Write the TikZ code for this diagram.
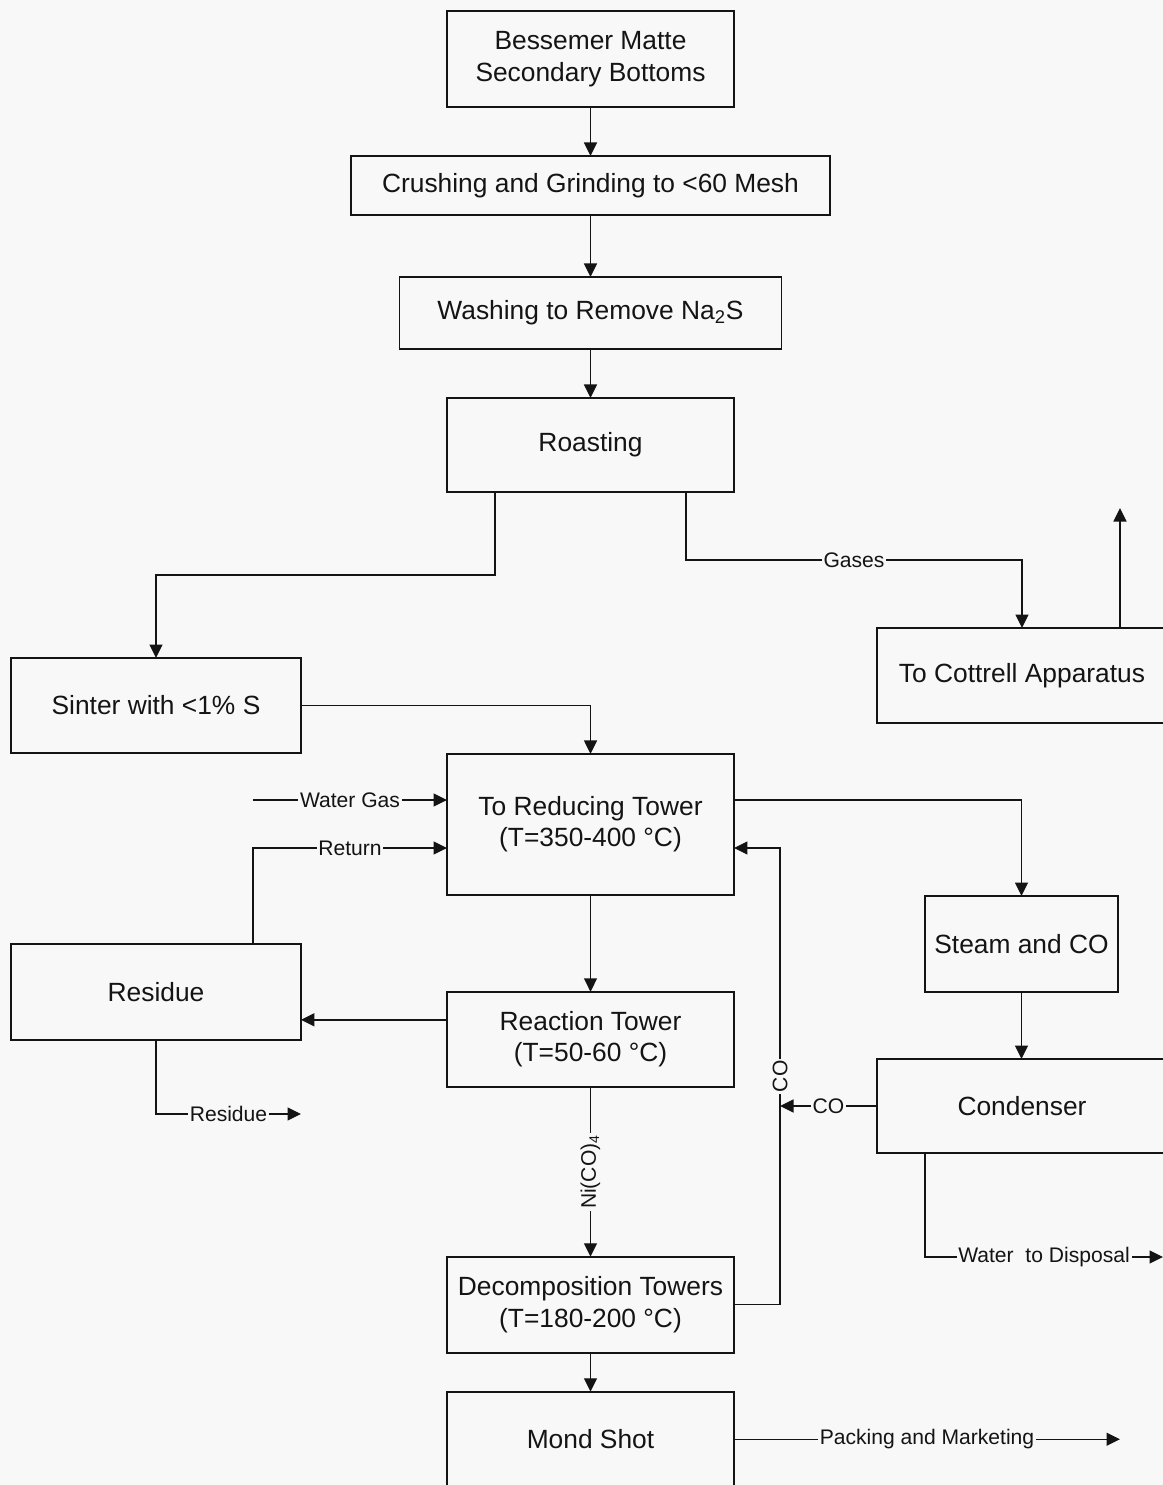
\documentclass[tikz,border=0pt]{standalone}
\usepackage{fontspec}
\setmainfont{Liberation Sans}
\usepackage{xcolor}
\usepackage{tikz}
\usetikzlibrary{arrows.meta, positioning, calc}
\definecolor{scanBg}{RGB}{248, 248, 248}
\definecolor{inkBlack}{RGB}{20, 20, 20}
\tikzset{
  block/.style={
    rectangle,
    draw=inkBlack,
    text=inkBlack,
    line width=0.9pt,
    outer sep=0pt,
    minimum width=5.74cm,
    minimum height=1.9cm,
    align=center,
    inner sep=2pt,
    font=\fontsize{15}{18}\selectfont
  },
  flowlabel/.style={
    fill=scanBg,
    text=inkBlack,
    inner sep=1pt,
    font=\fontsize{12}{14}\selectfont
  },
  arrow/.style={
    -{Triangle[length=0.27cm,width=0.26cm]},
    line width=0.8pt,
    color=inkBlack
  }
}

\begin{document}
\begin{tikzpicture}[x=0.02cm, y=-0.02cm]
\clip (0,0) rectangle (1163,1485);
\fill[scanBg] (0,0) rectangle (1163,1485);

% --- Main column ---
\node[block, minimum height=1.92cm] (bessemer) at (590.5,59) {Bessemer Matte\\Secondary Bottoms};
\node[block, below=0.98cm of bessemer, minimum width=9.58cm, minimum height=1.18cm] (crushing) {Crushing and Grinding to <60 Mesh};
\node[block, below=1.24cm of crushing, minimum width=7.64cm, minimum height=1.44cm] (washing) {Washing to Remove Na\textsubscript{2}S};
\node[block, below=0.98cm of washing, minimum height=1.88cm] (roasting) {Roasting};
\node[block, below=5.24cm of roasting, minimum height=2.82cm] (reducing) {To Reducing Tower\\(T=350-400 °C)};
\node[block, below=1.94cm of reducing] (reaction) {Reaction Tower\\(T=50-60 °C)};
\node[block, below=3.4cm of reaction, minimum height=1.92cm] (decomp) {Decomposition Towers\\(T=180-200 °C)};
\node[block, below=0.78cm of decomp] (mond) {Mond Shot};

% --- Side blocks ---
\node[block, minimum width=5.8cm] (sinter) at (156,705.5) {Sinter with <1\% S};
\node[block, minimum width=5.8cm, minimum height=1.92cm] (residue) at (156,992) {Residue};
\node[block, minimum width=5.8cm] (cottrell) at (1022,675.5) {To Cottrell Apparatus};
\node[block, minimum width=3.86cm, minimum height=1.92cm] (steam) at (1021.5,944) {Steam and CO};
\node[block, minimum width=5.8cm, minimum height=1.88cm] (condenser) at (1022,1106) {Condenser};

% --- Free ends ---
\coordinate (stack) at (1120,508);
\coordinate (watergas) at (253,800);
\coordinate (residueout) at (301,1114);
\coordinate (cotop) at (780,848);
\coordinate (coline) at (780,1105);
\coordinate (waterout) at (1163,1257);
\coordinate (packout) at (1120,1440);

% --- Main column arrows ---
\draw[arrow] (bessemer) -- (crushing);
\draw[arrow] (crushing) -- (washing);
\draw[arrow] (washing) -- (roasting);
\draw[arrow] (reducing) -- (reaction);
\draw[arrow] (reaction) -- node[flowlabel, rotate=90] {Ni(CO)\textsubscript{4}} (decomp);
\draw[arrow] (decomp) -- (mond);

% --- Roasting outputs ---
\draw[arrow] ([xshift=0.96cm]roasting.south west) |- ([yshift=1.66cm]sinter.north) -- (sinter.north);
\draw[arrow] ([xshift=-0.96cm]roasting.south east) |- node[flowlabel, pos=0.75] {Gases} ([yshift=1.36cm]cottrell.north) -- (cottrell.north);
\draw[arrow] (cottrell.north -| stack) -- (stack);

% --- Into the reducing tower ---
\draw[arrow] (sinter.east) -| (reducing.north);
\draw[arrow] (watergas) -- node[flowlabel] {Water Gas} (watergas -| reducing.west);
\draw[arrow] ([xshift=1.94cm]residue.north) |- node[flowlabel, pos=0.75] {Return} (cotop -| reducing.west);
\draw[arrow] (watergas -| reducing.east) -| (steam.north);

% --- Residue ---
\draw[arrow] ([yshift=0.39cm]reaction.west) -- ([yshift=0.39cm]reaction.west -| residue.east);
\draw[arrow] (residue.south) |- node[flowlabel, pos=0.75] {Residue} (residueout);

% --- CO recycle ---
\draw[arrow] (steam.south) -- (steam.south |- condenser.north);
\draw[arrow] (condenser.west) -- node[flowlabel] {CO} (condenser.west -| coline);
\draw[arrow] (decomp.east) -| node[flowlabel, rotate=90, pos=0.75] {CO} (cotop) -- (cotop -| reducing.east);

% --- Products ---
\draw[arrow] ([xshift=-1.94cm]condenser.south) |- node[flowlabel, pos=0.75] {Water\ \ to Disposal} (waterout);
\draw[arrow] (mond.east) -- node[flowlabel] {Packing and Marketing} (mond.east -| packout);

\end{tikzpicture}
\end{document}
